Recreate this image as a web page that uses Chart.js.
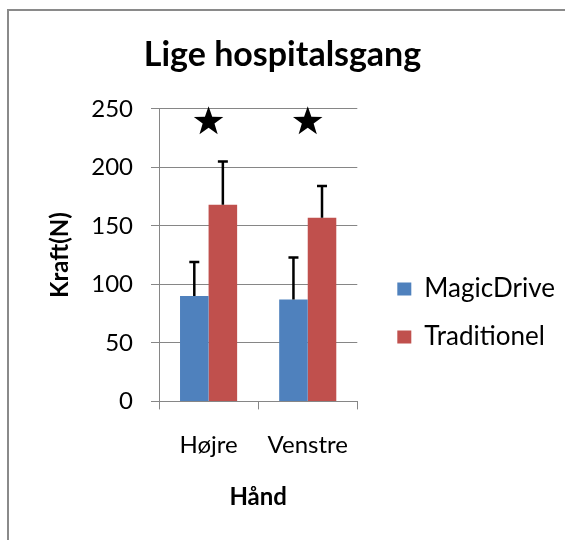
<!DOCTYPE html>
<html>
<head>
<meta charset="utf-8">
<script src="https://cdn.jsdelivr.net/npm/chart.js@4.4.1/dist/chart.umd.min.js"></script>
<style>
    html, body { margin: 0; padding: 0; background: #fff; }
    #frame {
        position: absolute; left: 7px; top: 9px; width: 620px; height: 620px;
        border-left: 2px solid #8a8a8a; border-top: 2px solid #8a8a8a;
    }
    #wrap { position: absolute; left: 0; top: 0; width: 565px; height: 540px; }
</style>
</head>
<body>
<div id="frame"></div>
<div id="wrap"><canvas id="forceChart"></canvas></div>
<script>
// Data
const hands = ['Højre', 'Venstre'];
const magicDrive = [90, 87];
const magicDriveErr = [29, 36];
const traditionel = [168, 157];
const traditionelErr = [37, 27];
const starLevel = [239, 239];   // where the significance stars sit
const yTicks = [0, 50, 100, 150, 200, 250];

Chart.defaults.font.family = 'Lato';
Chart.defaults.color = '#000';

// error bars (upper half only) and the stars above each group
const extras = {
    id: 'extras',
    afterDatasetsDraw(chart) {
        const ctx = chart.ctx;
        const x = chart.scales.x;
        const y = chart.scales.y;
        ctx.save();
        ctx.strokeStyle = '#000';
        ctx.lineWidth = 2.5;
        chart.data.datasets.forEach((ds, i) => {
            if (!ds.errors) return;
            chart.getDatasetMeta(i).data.forEach((bar, j) => {
                const top = y.getPixelForValue(ds.data[j] + ds.errors[j]);
                ctx.beginPath();
                ctx.moveTo(bar.x, bar.y);
                ctx.lineTo(bar.x, top);
                ctx.moveTo(bar.x - 5, top);
                ctx.lineTo(bar.x + 5, top);
                ctx.stroke();
            });
        });
        ctx.fillStyle = '#000';
        starLevel.forEach((v, j) => {
            const cx = x.getPixelForValue(j);
            const cy = y.getPixelForValue(v);
            const R = 15.5, r = 6.2;
            ctx.beginPath();
            for (let k = 0; k < 10; k++) {
                const a = -Math.PI / 2 + k * Math.PI / 5;
                const rad = k % 2 === 0 ? R : r;
                ctx.lineTo(cx + rad * Math.cos(a), cy + rad * Math.sin(a));
            }
            ctx.closePath();
            ctx.fill();
        });
        ctx.restore();
    }
};

const forceChart = new Chart(document.getElementById('forceChart'), {
    type: 'bar',
    data: {
        labels: hands,
        datasets: [{
            label: 'MagicDrive',
            data: magicDrive,
            errors: magicDriveErr,
            backgroundColor: '#4f81bd',
            categoryPercentage: 0.576,
            barPercentage: 1
        }, {
            label: 'Traditionel',
            data: traditionel,
            errors: traditionelErr,
            backgroundColor: '#c0504d',
            categoryPercentage: 0.576,
            barPercentage: 1
        }]
    },
    options: {
        responsive: true,
        maintainAspectRatio: false,
        animation: false,
        devicePixelRatio: 1,
        layout: { padding: { top: 0, right: 0, bottom: 28, left: 0 } },
        plugins: {
            title: {
                display: true,
                text: 'Lige hospitalsgang',
                font: { size: 34, weight: 'bold' },
                color: '#000',
                padding: { top: 35, bottom: 33 }
            },
            legend: {
                position: 'right',
                maxWidth: 230,
                title: { display: true, text: '', font: { size: 10 }, padding: { top: 102, bottom: 0 } },
                labels: {
                    boxWidth: 14,
                    boxHeight: 13,
                    padding: 22,
                    font: { size: 26 },
                    color: '#000'
                }
            },
            tooltip: { enabled: false }
        },
        scales: {
            x: {
                grid: { drawOnChartArea: false, color: '#868686', tickLength: 8, offset: true },
                border: { color: '#868686' },
                ticks: { font: { size: 24 }, color: '#000', padding: 21 },
                title: {
                    display: true,
                    text: 'Hånd',
                    font: { size: 24, weight: 'bold' },
                    color: '#000',
                    padding: { top: 3, bottom: 0 }
                }
            },
            y: {
                min: 0,
                max: 250,
                afterBuildTicks: s => { s.ticks = yTicks.map(v => ({ value: v })); },
                afterFit: s => { s.width = 159; },
                grid: { color: '#868686', tickLength: 8 },
                border: { color: '#868686' },
                ticks: { font: { size: 24 }, color: '#000', padding: 18 },
                title: {
                    display: true,
                    text: 'Kraft(N)',
                    font: { size: 24, weight: 'bold' },
                    color: '#000',
                    padding: { top: 46, bottom: 0 }
                }
            },
            gap: {
                type: 'linear',
                axis: 'y',
                position: 'right',
                display: true,
                grid: { display: false },
                border: { display: false },
                ticks: { display: false },
                afterFit: s => { s.width = 18; }
            }
        }
    },
    plugins: [extras]
});
</script>
</body>
</html>
